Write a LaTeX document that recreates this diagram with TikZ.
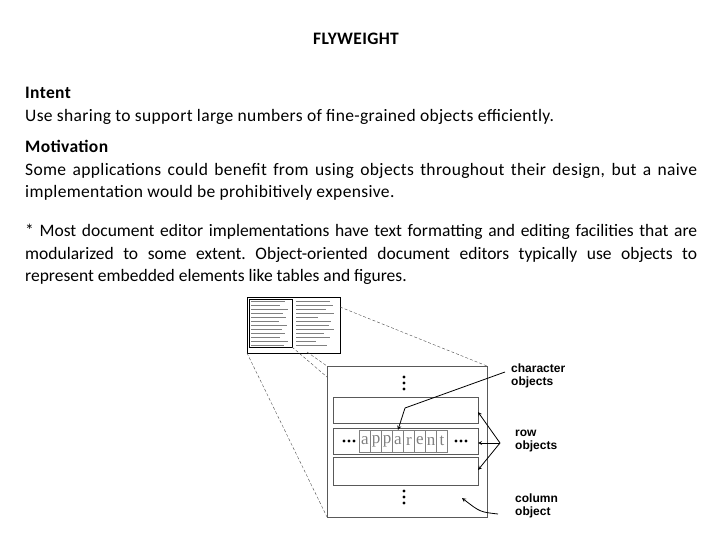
\documentclass[tikz,border=0pt]{standalone}
\usepackage{fontspec}
\setmainfont{Carlito}[LetterSpace=2]
\newfontfamily\lblfont{Liberation Sans}
\newfontfamily\letterfont{Liberation Serif}
\usetikzlibrary{positioning}
\hyphenpenalty=10000
\exhyphenpenalty=10000
\frenchspacing
\begin{document}
\begin{tikzpicture}[x=1pt,y=-1pt,
  para/.style={anchor=north west,inner sep=0,text width=672pt,align=justify,font=\fontsize{17.5}{22.5}\selectfont\sloppy},
  lbl/.style={anchor=west,inner sep=0,align=left,font=\lblfont\bfseries\fontsize{12}{12.5}\selectfont},
  rowbox/.style={draw,gray!70!black,thin},
  letter/.style={draw,gray,thin,minimum width=11pt,minimum height=22pt,inner sep=0,font=\letterfont\fontsize{17}{17}\selectfont},
  zoomline/.style={densely dashed,thin,gray!60!black},
  pointer/.style={thick,-stealth}]
\useasboundingbox (0,0) rectangle (720,540);
% text
\node[font=\bfseries\fontsize{17.5}{20}\selectfont] (title) at (356,39) {FLYWEIGHT};
\node[para] (intent) at (25,87) {\textbf{Intent}\\Use sharing to support large numbers of fine-grained objects efficiently.};
\node[para] (motiv) at (25,140) {\textbf{Motivation}\\Some applications could benefit from using objects throughout their design, but a naive implementation would be prohibitively expensive.};
\node[para] (note) at (25,224) {\addfontfeatures{LetterSpace=0}* Most document editor implementations have text formatting and editing facilities that are\linebreak modularized to some extent. Object-oriented document editors typically use objects to\linebreak represent embedded elements like tables and figures.\par};
% thumbnail page
\draw[thick] (247,297) rectangle (340,353);
\foreach \y/\a/\b in {301/285/330,305/280/333,309/288/326,313/283/334,317/286/318,321/279/331,325/287/329,329/282/334,333/285/324,337/280/330,341/288/316,345/284/327} {
  \draw[gray,line width=0.8pt] (251,\y) -- (\a,\y);
  \draw[gray,line width=0.8pt] (296,\y) -- (\b,\y);
}
\draw[thin] (249,299) rectangle (292,347);
% zoom lines
\coordinate (t1) at (340,307);
\coordinate (t2) at (247,353);
\coordinate (t3) at (292,347);
\coordinate (t4) at (307,352);
\draw[zoomline] (t1) -- (487,366);
\draw[zoomline] (t2) -- (327,517);
\draw[zoomline] (t3) -- (327,377);
\draw[zoomline] (t4) -- (327,366);
% column and rows
\draw[gray!70!black] (327,366) rectangle (487,517);
\draw[rowbox] (333,397) rectangle (478,423);
\draw[rowbox] (333,428) rectangle (478,454);
\draw[rowbox] (333,457) rectangle (478,485);
\foreach \y in {377,383,389,491,497,503} \fill (404,\y) circle (1.6);
\foreach \x in {344,349,354,456,461,466} \fill (\x,441) circle (1.6);
\foreach \c [count=\i] in {a,p,p,a,r,e,n,t}
  \node[letter] (c\i) at (354+\i*11,441) {\c};
% labels
\node[lbl] (chars) at (511,376) {character\\objects};
\node[lbl] (rows) at (515,441) {row\\objects};
\node[lbl] (col) at (515,506) {column\\object};
\coordinate (rj) at (500,443);
\draw[thick] (505,372) -- (405,408);
\draw[pointer] (405,408) -- (c4.north);
\draw[pointer] (rj) -- (478,412);
\draw[pointer] (rj) -- (478,443);
\draw[pointer] (rj) -- (478,470);
\draw[pointer] (498,514) .. controls (480,512) .. (462,498);
\end{tikzpicture}
\end{document}
